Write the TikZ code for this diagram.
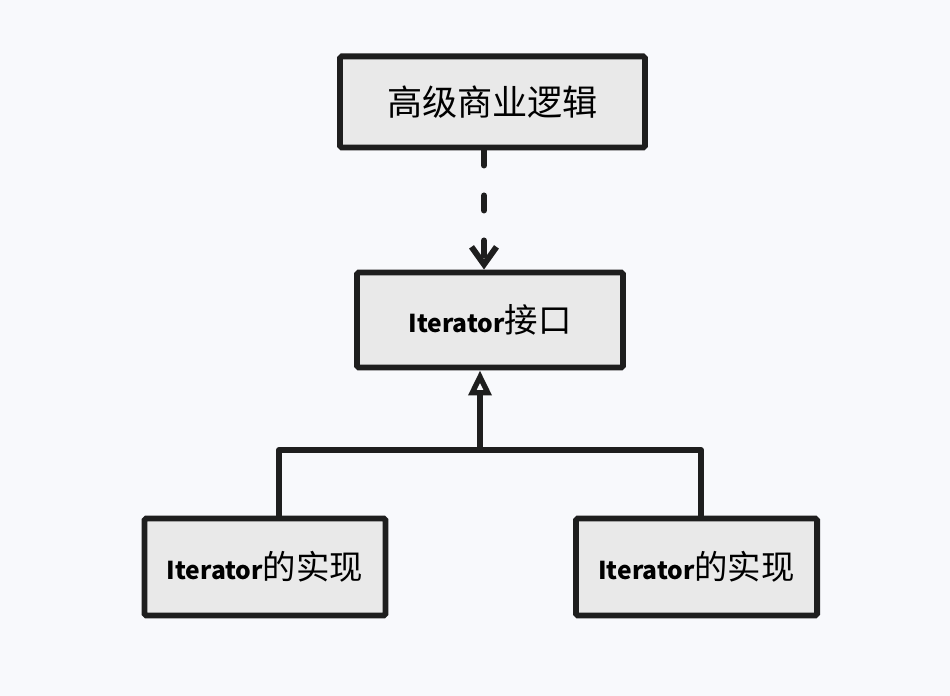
\documentclass[tikz,border=0pt]{standalone}
\usepackage{fontspec}
\setmainfont{Noto Sans CJK SC}
\usetikzlibrary{arrows.meta,positioning}
\definecolor{bgcol}{HTML}{F8F9FC}
\definecolor{boxcol}{HTML}{E9E9E9}
\definecolor{inkcol}{HTML}{1E1E1E}
\newcommand{\itname}{{\bfseries\fontsize{14}{20}\selectfont Iterator}}
\tikzset{
  umlbox/.style={draw=inkcol, fill=boxcol, line width=3.4pt, rounded corners=1pt,
                 inner sep=0pt, font=\fontsize{19}{22}\selectfont},
  link/.style={draw=inkcol, line width=3.4pt, line cap=round, line join=round}
}
\begin{document}
\begin{tikzpicture}
  \fill[bgcol] (0,0) rectangle (19,13.92);
  \useasboundingbox (0,0) rectangle (19,13.92);

  \node[umlbox, minimum width=6.1cm, minimum height=1.82cm,
        font=\fontsize{20}{24}\selectfont] (logic) at (9.85,11.88) {高级商业逻辑};
  \node[umlbox, minimum width=5.32cm, minimum height=1.9cm] (iface) at (9.8,7.52) {\itname 接口};
  \node[umlbox, minimum width=4.82cm, minimum height=1.94cm] (implA) at (5.3,2.58) {\itname 的实现};
  \node[umlbox, minimum width=4.82cm, minimum height=1.94cm] (implB) at (13.93,2.58) {\itname 的实现};

  \coordinate (join) at (9.6,4.92);

  % uses
  \draw[link, dash pattern=on 0.3cm off 0.6cm,
        -{Straight Barb[length=0.35cm, width=0.5cm, line width=3.4pt]}]
    (logic.south -| 9.68,0) -- (iface.north -| 9.68,0);

  % implements
  \draw[link] (implA.north -| 5.58,0) |- (join) -| (implB.north -| 14.02,0);
  \draw[link, -{Triangle[open, length=0.5cm, width=0.45cm, line width=3pt]}]
    (join) -- (iface.south -| join);
\end{tikzpicture}
\end{document}
